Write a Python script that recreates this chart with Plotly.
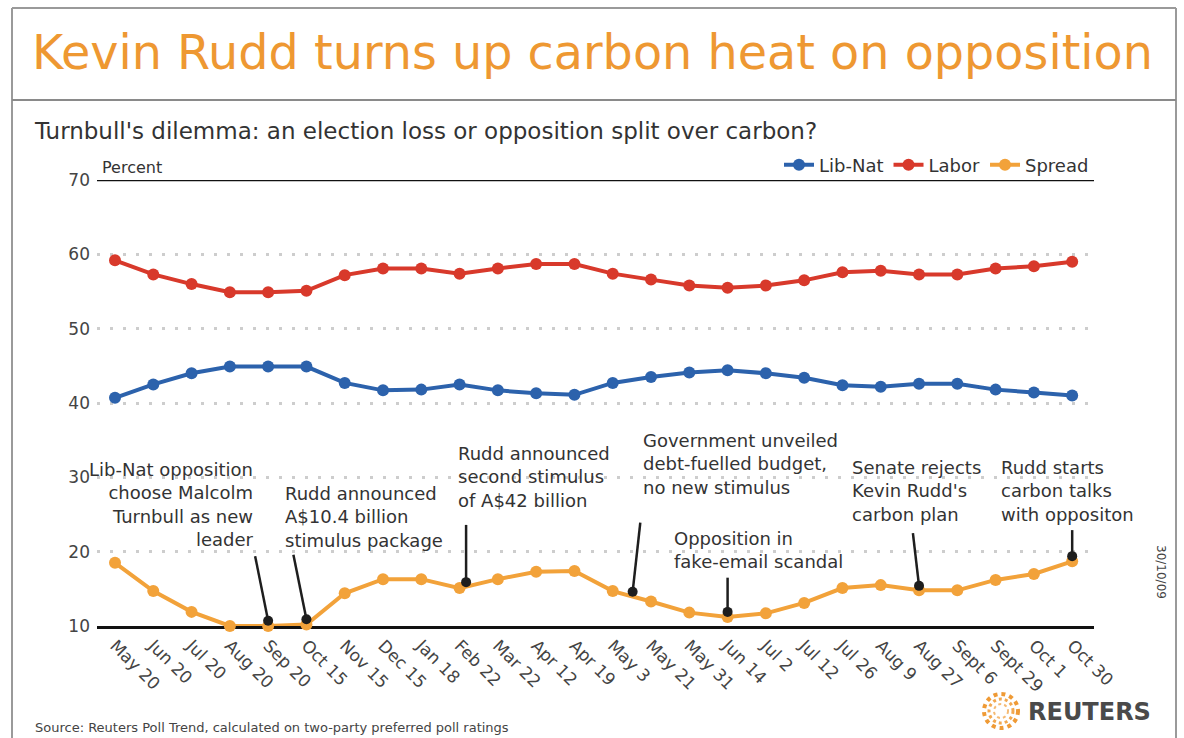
import plotly.graph_objects as go

# ---------------- data ----------------
dates = ["May 20", "Jun 20", "Jul 20", "Aug 20", "Sep 20", "Oct 15", "Nov 15",
         "Dec 15", "Jan 18", "Feb 22", "Mar 22", "Apr 12", "Apr 19", "May 3",
         "May 21", "May 31", "Jun 14", "Jul 2", "Jul 12", "Jul 26", "Aug 9",
         "Aug 27", "Sept 6", "Sept 29", "Oct 1", "Oct 30"]
lib_nat = [40.7, 42.5, 44.0, 44.9, 44.9, 44.9, 42.7, 41.7, 41.8, 42.5, 41.7, 41.3, 41.1,
           42.7, 43.5, 44.1, 44.4, 44.0, 43.4, 42.4, 42.2, 42.6, 42.6, 41.8, 41.4, 41.0]
labor = [59.2, 57.3, 56.0, 54.9, 54.9, 55.1, 57.2, 58.1, 58.1, 57.4, 58.1, 58.7, 58.7,
         57.4, 56.6, 55.8, 55.5, 55.8, 56.5, 57.6, 57.8, 57.3, 57.3, 58.1, 58.4, 59.0]
spread = [18.5, 14.7, 11.9, 10.0, 10.0, 10.2, 14.4, 16.3, 16.3, 15.1, 16.3, 17.3, 17.4,
          14.7, 13.3, 11.8, 11.2, 11.7, 13.1, 15.1, 15.5, 14.8, 14.8, 16.2, 17.0, 18.7]

y_ticks = [10, 20, 30, 40, 50, 60, 70]

# events (position along the date index, value of the marker dot)
event_x = [4, 5, 9.17, 13.52, 16, 21, 25]
event_y = [10.7, 10.9, 15.9, 14.6, 11.9, 15.4, 19.4]
event_line_x = [3.66, 4.66, 9.17, 13.72, 16, 20.84, 25]
event_line_y = [19.4, 19.6, 23.6, 23.9, 16.5, 22.5, 22.9]
event_text = [
    "Lib-Nat opposition<br>choose Malcolm<br>Turnbull as new<br>leader",
    "Rudd announced<br>A$10.4 billion<br>stimulus package",
    "Rudd announced<br>second stimulus<br>of A$42 billion",
    "Government unveiled<br>debt-fuelled budget,<br>no new stimulus",
    "Opposition in<br>fake-email scandal",
    "Senate rejects<br>Kevin Rudd's<br>carbon plan",
    "Rudd starts<br>carbon talks<br>with oppositon",
]

# ---------------- layout helpers (pixel -> paper) ----------------
W, H = 1184, 738
L, R, T, B = 97, 1094, 180, 626


def px(x):
    return (x - L) / (R - L)


def py(y):
    return (B - y) / (B - T)


FONT = "DejaVu Sans"
BLUE, RED, ORANGE = "#2c62ac", "#d8392b", "#f2a23a"
TXT = "#333333"

fig = go.Figure()
for name, vals, col in [("Lib-Nat", lib_nat, BLUE), ("Labor", labor, RED), ("Spread", spread, ORANGE)]:
    fig.add_trace(go.Scatter(
        x=list(range(len(dates))), y=vals, name=name, mode="lines+markers",
        line=dict(color=col, width=4), marker=dict(color=col, size=12),
        cliponaxis=False, hoverinfo="skip"))

fig.add_trace(go.Scatter(x=event_x, y=event_y, mode="markers", showlegend=False,
                         marker=dict(color="#1e1e1e", size=10), cliponaxis=False,
                         hoverinfo="skip"))

shapes = []
for ex, ey, lx, ly in zip(event_x, event_y, event_line_x, event_line_y):
    shapes.append(dict(type="line", xref="x", yref="y", x0=ex, y0=ey, x1=lx, y1=ly,
                       line=dict(color="#1e1e1e", width=2.5)))
# top black rule at 70
shapes.append(dict(type="line", xref="paper", yref="y", x0=0, x1=1, y0=70, y1=70,
                   line=dict(color="#111111", width=2.5)))
# frame
frame_col = "#9a9a9a"
shapes += [
    dict(type="line", xref="paper", yref="paper", x0=px(12), x1=px(12), y0=py(8), y1=py(745),
         line=dict(color=frame_col, width=2)),
    dict(type="line", xref="paper", yref="paper", x0=px(1176), x1=px(1176), y0=py(8), y1=py(745),
         line=dict(color=frame_col, width=2)),
    dict(type="line", xref="paper", yref="paper", x0=px(12), x1=px(1176), y0=py(8), y1=py(8),
         line=dict(color=frame_col, width=2)),
    dict(type="line", xref="paper", yref="paper", x0=px(12), x1=px(1176), y0=py(100), y1=py(100),
         line=dict(color="#8a8a8a", width=2)),
]
# Reuters logo (dotted rings)
for r, w, c in [(17, 4, "#ef9a35"), (12, 3, "#f2a84f"), (7, 2, "#f5bb75")]:
    shapes.append(dict(type="circle", xref="paper", yref="paper",
                       xsizemode="pixel", ysizemode="pixel",
                       xanchor=px(1001), yanchor=py(711), x0=-r, x1=r, y0=-r, y1=r,
                       line=dict(color=c, width=w, dash="dot")))

ann = []
# event texts
text_pos = [(256, 457, "right"), (283, 481, "left"), (456, 441, "left"), (641, 428, "left"),
            (672, 526, "left"), (850, 455, "left"), (999, 455, "left")]
for txt, (tx, ty, al) in zip(event_text, text_pos):
    ann.append(dict(xref="paper", yref="paper", x=px(tx), y=py(ty), text=txt,
                    xanchor=al, yanchor="top", align=al, showarrow=False,
                    font=dict(family=FONT, size=18, color=TXT)))
# title, subtitle etc.
ann += [
    dict(xref="paper", yref="paper", x=px(30), y=py(52), text="Kevin Rudd turns up carbon heat on opposition",
         xanchor="left", yanchor="middle", showarrow=False,
         font=dict(family=FONT, size=47.7, color="#ee9832")),
    dict(xref="paper", yref="paper", x=px(32), y=py(131),
         text="Turnbull's dilemma: an election loss or opposition split over carbon?",
         xanchor="left", yanchor="middle", showarrow=False,
         font=dict(family=FONT, size=23, color=TXT)),
    dict(xref="paper", yref="paper", x=px(100), y=py(167), text="Percent",
         xanchor="left", yanchor="middle", showarrow=False,
         font=dict(family=FONT, size=16, color=TXT)),
    dict(xref="paper", yref="paper", x=px(33), y=py(727),
         text="Source: Reuters Poll Trend, calculated on two-party preferred poll ratings",
         xanchor="left", yanchor="middle", showarrow=False,
         font=dict(family=FONT, size=13, color="#444444")),
    dict(xref="paper", yref="paper", x=px(1026), y=py(712), text="<b>REUTERS</b>",
         xanchor="left", yanchor="middle", showarrow=False,
         font=dict(family=FONT, size=24, color="#4a4a4a")),
    dict(xref="paper", yref="paper", x=px(1161), y=py(572), text="30/10/09", textangle=90,
         xanchor="center", yanchor="middle", showarrow=False,
         font=dict(family=FONT, size=12, color="#444444")),
]

fig.update_layout(
    width=W, height=H, autosize=False,
    margin=dict(l=L, r=W - R, t=T, b=H - B, pad=0),
    paper_bgcolor="white", plot_bgcolor="white",
    font=dict(family=FONT, color=TXT),
    showlegend=True,
    legend=dict(orientation="h", x=1, xanchor="right", y=py(165), yanchor="middle",
                font=dict(family=FONT, size=18, color=TXT), itemwidth=30,
                bgcolor="rgba(0,0,0,0)"),
    shapes=shapes, annotations=ann,
    xaxis=dict(range=[-0.47, 25.57], tickmode="array", tickvals=list(range(len(dates))),
               ticktext=dates, tickangle=45, showgrid=False, zeroline=False,
               showline=True, linecolor="#111111", linewidth=3, ticks="",
               layer="below traces",
               tickfont=dict(family=FONT, size=17, color="#444444")),
    yaxis=dict(range=[10, 70], tickmode="array", tickvals=y_ticks, showgrid=True,
               gridcolor="#cdcdcd", gridwidth=2.5, griddash="3px,10px", zeroline=False,
               showline=False, ticks="", ticklabelstandoff=6,
               tickfont=dict(family=FONT, size=17, color="#444444")),
)

fig.write_html("out.html", config={"displayModeBar": False},
               post_script="document.body.style.margin='0px';document.body.style.padding='0px';document.body.style.overflow='hidden';")
